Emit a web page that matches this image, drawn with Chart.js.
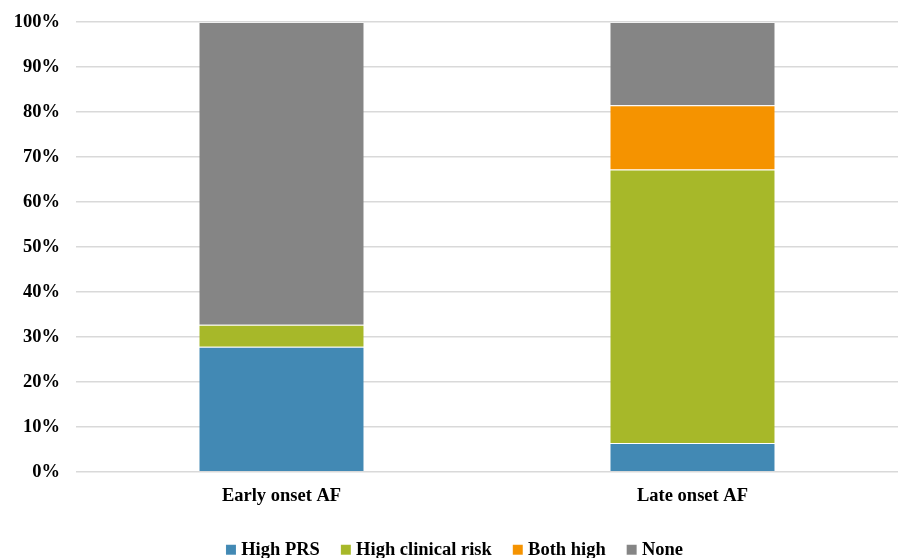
<!DOCTYPE html>
<html>
<head>
<meta charset="utf-8">
<script src="https://cdn.jsdelivr.net/npm/chart.js@4.4.1/dist/chart.umd.min.js"></script>
<style>
  html, body { margin: 0; padding: 0; background: #ffffff; }
  #wrap { width: 899px; height: 558px; position: relative; }
</style>
</head>
<body>
<div id="wrap"><canvas id="chart"></canvas></div>
<script>
// Share of AF patients by risk group (percent of each onset group)
const categories = ['Early onset AF', 'Late onset AF'];
const highPRS = [27.8, 6.4];
const highClinical = [4.9, 60.8];
const bothHigh = [0, 14.3];
const none = [67.3, 18.5];
const yTicks = [0, 10, 20, 30, 40, 50, 60, 70, 80, 90, 100];

const serif = "'Liberation Serif', 'Times New Roman', serif";
const leftPad = 15;

const makeSet = (label, data, color) => ({
  label, data,
  backgroundColor: color,
  borderColor: 'rgba(255,255,255,0.25)',
  borderWidth: { top: 1, bottom: 0, left: 0, right: 0 },
  borderSkipped: false,
  pointStyle: 'rect',
  categoryPercentage: 1.0,
  barPercentage: 0.4
});

new Chart(document.getElementById('chart'), {
  type: 'bar',
  data: {
    labels: categories,
    datasets: [
      makeSet('High PRS', highPRS, '#4289b4'),
      makeSet('High clinical risk', highClinical, '#a7b829'),
      makeSet('Both high', bothHigh, '#f59300'),
      makeSet('None', none, '#858585')
    ]
  },
  options: {
    responsive: true,
    maintainAspectRatio: false,
    animation: false,
    layout: { padding: { top: 22, right: 1, bottom: -11, left: leftPad } },
    plugins: {
      legend: {
        position: 'bottom',
        labels: {
          usePointStyle: true,
          boxWidth: 2, boxHeight: 10, padding: 25,
          color: '#000000',
          font: { family: serif, size: 18.5, weight: 'bold' }
        }
      },
      tooltip: { enabled: false }
    },
    scales: {
      x: {
        stacked: true,
        afterFit: s => { s.height -= 4.5; },
        grid: { display: false, drawTicks: false },
        border: { display: false },
        ticks: {
          color: '#000000', padding: 13,
          font: { family: serif, size: 18.5, weight: 'bold' }
        }
      },
      y: {
        stacked: true,
        min: 0, max: 100,
        afterBuildTicks: s => { s.ticks = yTicks.map(v => ({ value: v })); },
        afterFit: s => { s.width = 76 - leftPad; s.paddingTop = 0; s.paddingBottom = 0; },
        grid: { color: '#d9d9d9', lineWidth: 1.5, drawTicks: false },
        border: { display: false },
        ticks: {
          color: '#000000', padding: 16,
          font: { family: serif, size: 18.5, weight: 'bold' },
          callback: v => v + '%'
        }
      }
    }
  }
});
</script>
</body>
</html>
